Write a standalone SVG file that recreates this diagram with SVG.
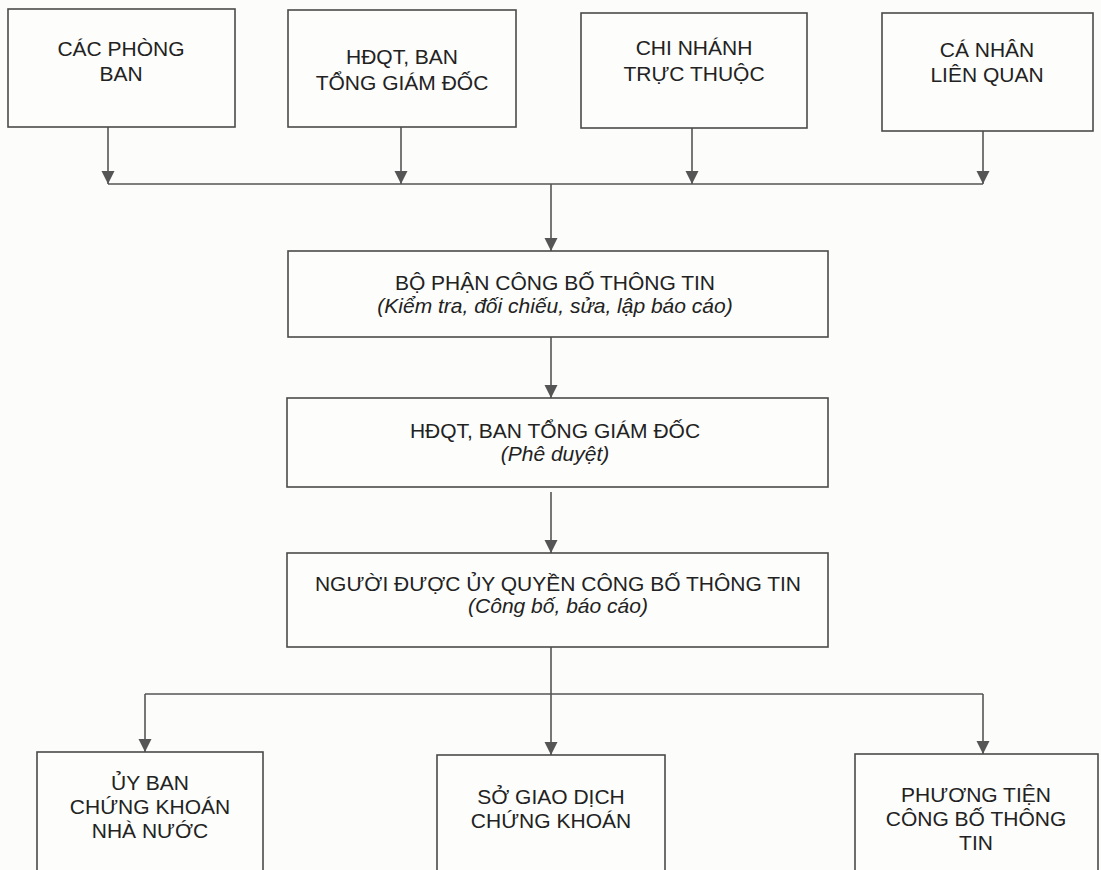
<svg xmlns="http://www.w3.org/2000/svg" width="1101" height="870" viewBox="0 0 1101 870">
<style>
.bg{fill:#fcfcfa}
.box{fill:#fdfdfb;stroke:#4a4a4a;stroke-width:1.6}
.t{font-family:"Liberation Sans",Arial,sans-serif;font-size:21px;fill:#222;text-anchor:middle}
.i{font-style:italic}
.ln{fill:none;stroke:#555;stroke-width:1.6}
</style>
<defs>
<marker id="ah" markerUnits="userSpaceOnUse" markerWidth="14" markerHeight="14" refX="13" refY="6.5" orient="auto">
<path d="M0,0 L13,6.5 L0,13 z" fill="#555"/>
</marker>
</defs>
<rect class="bg" x="0" y="0" width="1101" height="870"/>
<g id="connectors">
<path class="ln" d="M108,127 V184" marker-end="url(#ah)"/>
<path class="ln" d="M401,127 V184" marker-end="url(#ah)"/>
<path class="ln" d="M692,128 V184" marker-end="url(#ah)"/>
<path class="ln" d="M983,131 V184" marker-end="url(#ah)"/>
<path class="ln" d="M108,184 H983"/>
<path class="ln" d="M551,184 V251" marker-end="url(#ah)"/>
<path class="ln" d="M551,337 V398" marker-end="url(#ah)"/>
<path class="ln" d="M551,492 V553" marker-end="url(#ah)"/>
<path class="ln" d="M551,647 V755" marker-end="url(#ah)"/>
<path class="ln" d="M145,694 H983"/>
<path class="ln" d="M145,694 V752" marker-end="url(#ah)"/>
<path class="ln" d="M983,694 V754" marker-end="url(#ah)"/>
</g>
<g id="n-cac-phong-ban">
<rect class="box" x="8" y="9" width="227" height="118"/>
<text class="t" x="121" y="56">CÁC PHÒNG</text>
<text class="t" x="121" y="81">BAN</text>
</g>
<g id="n-hdqt-top">
<rect class="box" x="288" y="10" width="228" height="117"/>
<text class="t" x="402" y="64">HĐQT, BAN</text>
<text class="t" x="402" y="90">TỔNG GIÁM ĐỐC</text>
</g>
<g id="n-chi-nhanh">
<rect class="box" x="581" y="13" width="226" height="115"/>
<text class="t" x="694" y="55">CHI NHÁNH</text>
<text class="t" x="694" y="81">TRỰC THUỘC</text>
</g>
<g id="n-ca-nhan">
<rect class="box" x="882" y="13" width="211" height="118"/>
<text class="t" x="987" y="57">CÁ NHÂN</text>
<text class="t" x="987" y="82">LIÊN QUAN</text>
</g>
<g id="n-bo-phan">
<rect class="box" x="288" y="251" width="540" height="86"/>
<text class="t" x="555" y="290">BỘ PHẬN CÔNG BỐ THÔNG TIN</text>
<text class="t i" x="555" y="313">(Kiểm tra, đối chiếu, sửa, lập báo cáo)</text>
</g>
<g id="n-hdqt-mid">
<rect class="box" x="287" y="398" width="541" height="89"/>
<text class="t" x="555" y="438">HĐQT, BAN TỔNG GIÁM ĐỐC</text>
<text class="t i" x="555" y="461">(Phê duyệt)</text>
</g>
<g id="n-nguoi-duoc">
<rect class="box" x="287" y="553" width="541" height="94"/>
<text class="t" x="558" y="591">NGƯỜI ĐƯỢC ỦY QUYỀN CÔNG BỐ THÔNG TIN</text>
<text class="t i" x="558" y="613">(Công bố, báo cáo)</text>
</g>
<g id="n-ubck">
<rect class="box" x="37" y="752" width="226" height="130"/>
<text class="t" x="150" y="790">ỦY BAN</text>
<text class="t" x="150" y="814">CHỨNG KHOÁN</text>
<text class="t" x="150" y="838">NHÀ NƯỚC</text>
</g>
<g id="n-sgd">
<rect class="box" x="437" y="755" width="228" height="130"/>
<text class="t" x="551" y="804">SỞ GIAO DỊCH</text>
<text class="t" x="551" y="828">CHỨNG KHOÁN</text>
</g>
<g id="n-ptcb">
<rect class="box" x="855" y="754" width="243" height="130"/>
<text class="t" x="976" y="802">PHƯƠNG TIỆN</text>
<text class="t" x="976" y="826">CÔNG BỐ THÔNG</text>
<text class="t" x="976" y="850">TIN</text>
</g>
</svg>
